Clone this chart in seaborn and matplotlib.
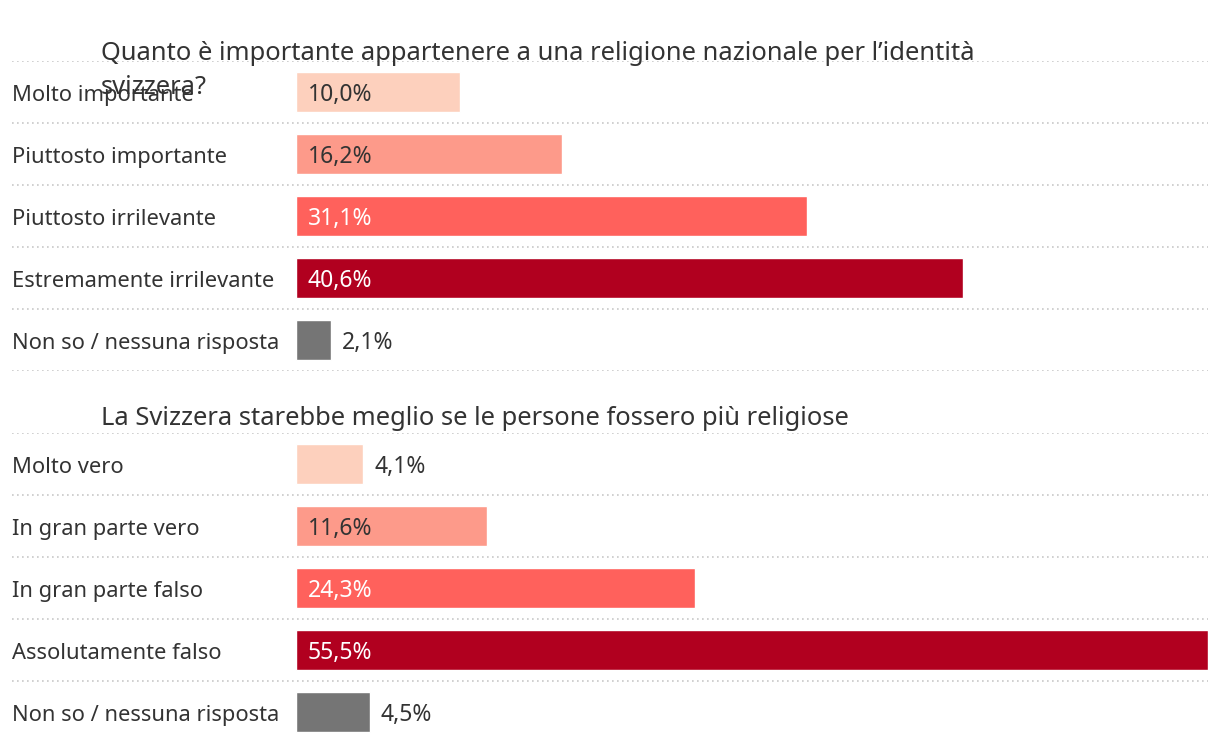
import matplotlib.pyplot as plt
import seaborn as sns
import pandas as pd

# dati
q1_title = "Quanto è importante appartenere a una religione nazionale per l’identità\nsvizzera?"
q1_labels = ["Molto importante", "Piuttosto importante", "Piuttosto irrilevante",
             "Estremamente irrilevante", "Non so / nessuna risposta"]
q1_values = [10.0, 16.2, 31.1, 40.6, 2.1]

q2_title = "La Svizzera starebbe meglio se le persone fossero più religiose"
q2_labels = ["Molto vero", "In gran parte vero", "In gran parte falso",
             "Assolutamente falso", "Non so / nessuna risposta"]
q2_values = [4.1, 11.6, 24.3, 55.5, 4.5]

bar_colors = ["#fdd0bd", "#fd9a8a", "#ff615c", "#b1001f", "#757575"]
text_colors = ["#333333", "#333333", "white", "white", "#333333"]

W, H = 1220, 742
sns.set_style("white")
plt.rcParams['font.family'] = ['Noto Sans', 'DejaVu Sans']

fig = plt.figure(figsize=(W / 100, H / 100), dpi=100)

XMAX = 55.5
PX_PER = (1208 - 296) / XMAX
XMIN = -(296 - 12) / PX_PER
DY = 0.05  # testo leggermente sotto il centro della barra


def panel(top_px, labels, values, title, title_y):
    ax = fig.add_axes([12 / W, 1 - (top_px + 310) / H, (1208 - 12) / W, 310 / H])
    df = pd.DataFrame({"cat": labels, "val": values})
    sns.barplot(data=df, x="val", y="cat", hue="cat", palette=bar_colors,
                width=0.645, legend=False, ax=ax, saturation=1)
    ax.set_xlim(XMIN, XMAX)
    ax.set_ylim(4.5, -0.5)
    for y in [-0.5, 0.5, 1.5, 2.5, 3.5, 4.5]:
        ax.axhline(y, color="#c8c8c8", lw=1.2, ls=(0, (1, 2)), zorder=0)
    for i, (lab, v) in enumerate(zip(labels, values)):
        ax.text(XMIN, i + DY, lab, ha="left", va="center", fontsize=15.8, color="#333333")
        s = f"{v:.1f}".replace(".", ",") + "%"
        if v >= 8:
            ax.text(12 / PX_PER, i + DY, s, ha="left", va="center", fontsize=16.5,
                    color=text_colors[i])
        else:
            ax.text(v + 11 / PX_PER, i + DY, s, ha="left", va="center", fontsize=16.5,
                    color="#333333")
    ax.set_axis_off()
    fig.text(101 / W, 1 - title_y / H, title, ha="left", va="baseline",
             fontsize=18.4, color="#333333", linespacing=1.45)
    return ax


panel(61, q1_labels, q1_values, q1_title, 94)
panel(433, q2_labels, q2_values, q2_title, 425)

fig.savefig("out.png", dpi=100)
